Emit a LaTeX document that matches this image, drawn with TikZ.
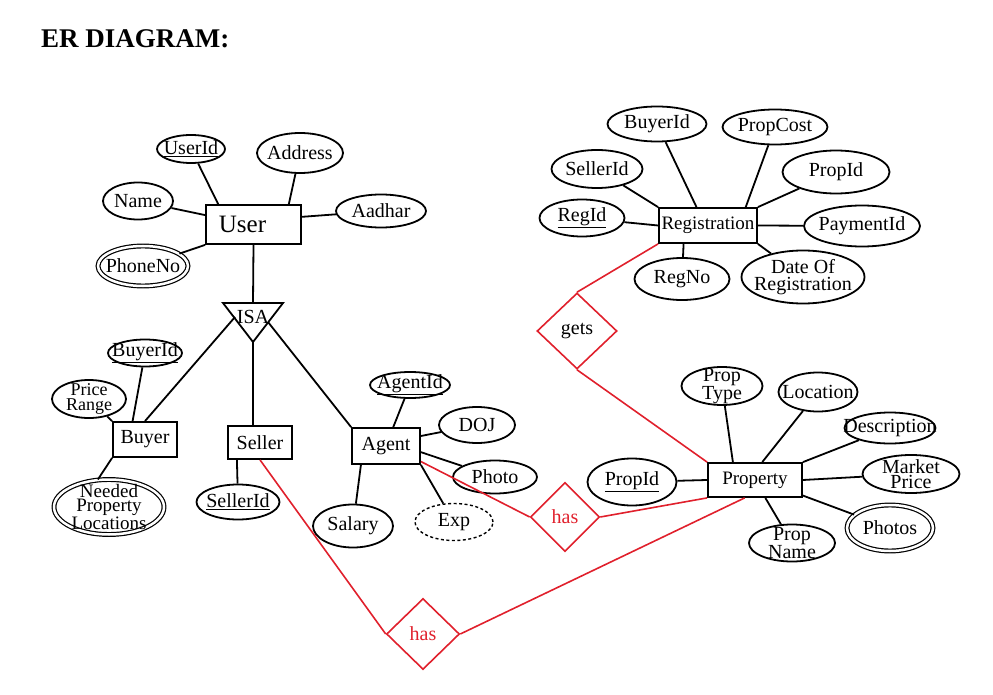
\documentclass[tikz,border=0pt]{standalone}
\usepackage{fontspec}
\setmainfont{Liberation Serif}
\usepackage{xcolor}
\usepackage{tikz}
\usetikzlibrary{shapes.geometric}
\definecolor{relred}{RGB}{224,32,44}

\begin{document}
\begin{tikzpicture}[x=1pt, y=-1pt, line width=1.5pt,
    font=\fontsize{20}{15}\selectfont,
    ent/.style={draw, rectangle, inner sep=0pt, line width=1.8pt},
    attr/.style={draw, ellipse, inner sep=0pt, line width=1.8pt},
    multi/.style={draw, ellipse, inner sep=0pt, double, double distance=2.5pt, line width=1.2pt},
    derived/.style={draw, ellipse, inner sep=0pt, line width=1.4pt, dash pattern=on 3pt off 2.5pt},
    rel/.style={draw=relred, diamond, inner sep=0pt, line width=1.6pt},
    conn/.style={line width=1.8pt},
    relconn/.style={draw=relred, line width=1.6pt}]
    \useasboundingbox (0,0) rectangle (993,695);

    % Title
    \node[anchor=base west, font=\fontsize{27}{30}\selectfont\bfseries] (title) at (37,48) {ER DIAGRAM:};

    % User
    \node[ent, minimum width=95pt, minimum height=39pt, font=\fontsize{25}{25}\selectfont] (user) at (253.5,224.5) {User\hspace*{22pt}};
    \node[attr, minimum width=68pt, minimum height=28pt, label={center:\underline{UserId}}] (userid) at (191,149) {};
    \node[attr, minimum width=86pt, minimum height=40pt, label={center:Address}] (address) at (300,153) {};
    \node[attr, minimum width=70pt, minimum height=37pt, label={center:Name}] (name) at (138,201) {};
    \node[attr, minimum width=90pt, minimum height=33pt, label={center:Aadhar}] (aadhar) at (381,211) {};
    \node[multi, minimum width=90pt, minimum height=40pt, label={center:PhoneNo}] (phoneno) at (143,266) {};

    \foreach \a/\b in {userid/user.150, address/user.30, name/user.169, aadhar/user.9, phoneno/user.south west}{
        \draw[conn] (\a) -- (\b);
    }

    % ISA
    \coordinate (isal) at (223,303);
    \coordinate (isar) at (283,303);
    \coordinate (isab) at (253,342);
    \coordinate (isat) at (253,303);
    \coordinate (isaw) at (235,317);
    \coordinate (isae) at (268,322);
    \draw[conn] (isal) -- (isar) -- (isab) -- cycle;
    \node (isa) at (253,317) {ISA};
    \draw[conn] (user.south) -- (isat);

    % Buyer, Seller, Agent
    \node[ent, minimum width=64pt, minimum height=35pt] (buyer) at (145,439.5) {Buyer};
    \node[ent, minimum width=64pt, minimum height=33pt] (seller) at (260,442.5) {Seller};
    \node[ent, minimum width=68pt, minimum height=36pt] (agent) at (386,446) {Agent};

    \draw[conn] (isaw) -- (buyer.north);
    \draw[conn] (isab) -- (isab |- seller.north);
    \draw[conn] (isae) -- (agent.north west);

    \node[attr, minimum width=74pt, minimum height=27pt, label={center:\underline{BuyerId}}] (buyerid) at (145,353) {};
    \node[attr, minimum width=74pt, minimum height=38pt, label={[align=center, font=\fontsize{18}{15}\selectfont]center:Price\\Range}] (pricerange) at (89,399) {};
    \node[multi, minimum width=110pt, minimum height=55pt, label={[align=center, font=\fontsize{19}{14}\selectfont]center:Needed\\Property\\Locations}] (needed) at (109,507) {};
    \node[attr, minimum width=83pt, minimum height=35pt, label={center:\underline{SellerId}}] (sellerid) at (238,502) {};
    \node[attr, minimum width=80pt, minimum height=26pt, label={center:\underline{AgentId}}] (agentid) at (410,385) {};
    \node[attr, minimum width=76pt, minimum height=36pt, label={center:DOJ}] (doj) at (477,425) {};
    \node[attr, minimum width=84pt, minimum height=33pt, label={center:Photo}] (photo) at (495,477) {};
    \node[attr, minimum width=80pt, minimum height=43pt, label={center:Salary}] (salary) at (353,526) {};
    \node[derived, minimum width=78pt, minimum height=37pt, label={center:Exp}] (exp) at (454,522) {};

    \foreach \a/\b in {buyerid/buyer.124, pricerange/buyer.north west, sellerid/seller.217,
                       agentid/agent.69, doj/agent.16, photo/agent.-10, salary/agent.217, exp/agent.south east}{
        \draw[conn] (\a) -- (\b);
    }
    \draw[conn] (buyer.south west) -- (needed.112);

    % Registration
    \node[ent, minimum width=98pt, minimum height=35pt, font=\fontsize{19}{19}\selectfont] (reg) at (708,225.5) {Registration};
    \node[attr, minimum width=99pt, minimum height=35pt, label={center:BuyerId}] (rbuyerid) at (657,124) {};
    \node[attr, minimum width=105pt, minimum height=35pt, label={center:PropCost}] (propcost) at (775,127) {};
    \node[attr, minimum width=91pt, minimum height=38pt, label={center:SellerId}] (rsellerid) at (597,169) {};
    \node[attr, minimum width=107pt, minimum height=43pt, label={center:PropId}] (rpropid) at (836,172) {};
    \node[attr, minimum width=85pt, minimum height=37pt, label={center:\underline{RegId}}] (regid) at (582,218) {};
    \node[attr, minimum width=116pt, minimum height=41pt, label={center:PaymentId}] (paymentid) at (862,226) {};
    \node[attr, minimum width=95pt, minimum height=42pt, label={center:RegNo}] (regno) at (682,279) {};
    \node[attr, minimum width=123pt, minimum height=53pt, label={[align=center, font=\fontsize{20}{16.5}\selectfont]center:Date Of\\Registration}] (regdate) at (803,277) {};

    \foreach \a/\b in {rbuyerid/reg.122, propcost/reg.26, rsellerid/reg.north west, rpropid/reg.north east,
                       regid/reg.west, paymentid/reg.east, regno/reg.217, regdate/reg.south east}{
        \draw[conn] (\a) -- (\b);
    }

    % Property
    \node[ent, minimum width=94pt, minimum height=34pt, font=\fontsize{19}{19}\selectfont] (prop) at (755,480) {Property};
    \node[attr, minimum width=81pt, minimum height=38pt, label={[align=center]center:Prop\\Type}] (proptype) at (722,386) {};
    \node[attr, minimum width=79pt, minimum height=39pt, label={center:Location}] (location) at (818,392) {};
    \node[attr, minimum width=91pt, minimum height=31pt, label={center:Description}] (descr) at (890,428) {};
    \node[attr, minimum width=97pt, minimum height=38pt, label={[align=center, font=\fontsize{20}{15}\selectfont]center:Market\\Price}] (marketprice) at (911,474) {};
    \node[multi, minimum width=86pt, minimum height=46pt, label={center:Photos}] (photos) at (890,528) {};
    \node[attr, minimum width=86pt, minimum height=37pt, label={[align=center]center:Prop\\Name}] (propname) at (792,543) {};
    \node[attr, minimum width=89pt, minimum height=47pt, label={center:\underline{PropId}}] (propid) at (632,482) {};

    \foreach \a/\b in {proptype/prop.141, location/prop.68, descr/prop.north east, marketprice/prop.east,
                       photos/prop.-18, propname/prop.-60, propid/prop.west}{
        \draw[conn] (\a) -- (\b);
    }

    % Relationships
    \node[rel, minimum width=80pt, minimum height=76pt] (gets) at (577,331) {gets};
    \node[rel, minimum width=69pt, minimum height=69pt, text=relred] (has1) at (565,517) {has};
    \node[rel, minimum width=73pt, minimum height=71pt, text=relred] (has2) at (423,634) {has};

    \draw[relconn] (reg.south west) -- (gets.north);
    \draw[relconn] (gets.south) -- (prop.north west);
    \draw[relconn] (agent.-24) -- (has1.west);
    \draw[relconn] (has1.east) -- (prop.south west);
    \draw[relconn] (seller.south) -- (has2.west);
    \draw[relconn] (has2.east) -- (prop.240);
\end{tikzpicture}
\end{document}
